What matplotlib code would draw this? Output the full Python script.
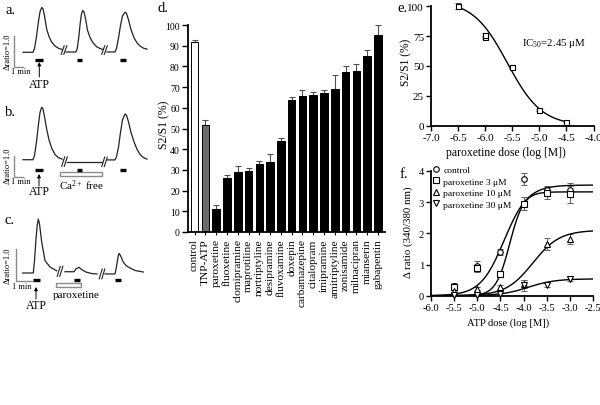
import numpy as np
import matplotlib
matplotlib.use('Agg')
import matplotlib.pyplot as plt
from matplotlib.lines import Line2D
from matplotlib.patches import Rectangle

plt.rcParams['font.family'] = ['Liberation Serif', 'DejaVu Serif']
plt.rcParams['mathtext.fontset'] = 'custom'
plt.rcParams['mathtext.rm'] = 'Liberation Serif'
plt.rcParams['mathtext.it'] = 'Liberation Serif:italic'
plt.rcParams['mathtext.bf'] = 'Liberation Serif:bold'
plt.rcParams['axes.unicode_minus'] = False

# ---------------- data ----------------
# traces (time in min, delta ratio)
a_t = [[2.3, 3.3, 3.45, 3.65, 3.85, 4.0, 4.17, 4.3, 4.45, 4.67, 4.9, 5.17, 5.5, 5.83, 6.2],
       [6.6, 7.6, 7.72, 7.88, 8.02, 8.14, 8.27, 8.4, 8.55, 8.75, 9.0, 9.3, 9.65, 10.0, 10.3],
       [10.7, 11.5, 11.65, 11.85, 12.05, 12.25, 12.5, 12.65, 12.85, 13.1, 13.4, 13.7, 14.0, 14.35, 14.7]]
a_r = [[0, 0, 0.12, 0.5, 0.98, 1.28, 1.42, 1.38, 1.15, 0.73, 0.5, 0.32, 0.2, 0.13, 0.09],
       [0.01, 0.01, 0.12, 0.48, 0.92, 1.2, 1.32, 1.28, 1.07, 0.7, 0.47, 0.3, 0.18, 0.12, 0.09],
       [0.01, 0.01, 0.12, 0.45, 0.85, 1.15, 1.27, 1.23, 1.03, 0.72, 0.46, 0.3, 0.2, 0.13, 0.1]]
b_t = [[2.3, 3.3, 3.45, 3.65, 3.85, 4.0, 4.17, 4.3, 4.45, 4.67, 4.9, 5.17, 5.5, 5.83, 6.2],
       [6.7, 10.2],
       [10.7, 11.5, 11.65, 11.85, 12.05, 12.25, 12.5, 12.65, 12.85, 13.1, 13.4, 13.7, 14.0, 14.35, 14.7]]
b_r = [[0, 0, 0.2, 0.85, 1.7, 2.25, 2.5, 2.42, 2.05, 1.45, 0.95, 0.55, 0.25, 0.1, 0.03],
       [-0.12, -0.12],
       [-0.01, -0.01, 0.15, 0.6, 1.3, 1.9, 2.18, 2.12, 1.8, 1.3, 0.85, 0.5, 0.25, 0.1, 0.03]]
c_t = [[2.27, 3.33, 3.45, 3.6, 3.72, 3.83, 3.95, 4.17, 4.5, 5.0, 5.67],
       [6.5, 7.4, 7.6, 7.9, 8.2, 8.6, 9.2, 9.7],
       [10.5, 11.5, 11.65, 11.8, 11.9, 12.05, 12.33, 12.65, 13.0, 13.5, 14.33]]
c_r = [[0, 0, 0.38, 1.07, 1.5, 1.7, 1.55, 0.98, 0.39, 0.19, 0.07],
       [0.04, 0.04, 0.13, 0.18, 0.1, 0.03, -0.02, -0.03],
       [-0.03, -0.03, 0.2, 0.5, 0.62, 0.55, 0.34, 0.22, 0.16, 0.08, 0.03]]
a_atp = [(3.47, 4.27), (7.7, 8.2), (12.0, 12.6)]
b_atp = [(3.47, 4.27), (7.7, 8.2), (12.0, 12.6)]
c_atp = [(3.33, 4.0), (7.4, 8.0), (11.5, 12.07)]
b_cafree = (6.0, 10.17)
c_parox = (5.6, 8.07)

# panel d
drug_labels = ['control', 'TNP-ATP', 'paroxetine', 'fluoxetine', 'clomipramine', 'maprotiline',
               'nortriptyline', 'desipramine', 'fluvoxamine', 'doxepin', 'carbamazepine',
               'citalopram', 'imipramine', 'amitriptyline', 'zonisamide', 'milnacipran',
               'mianserin', 'gabapentin']
s2s1_vals = [91.8, 51.9, 11.3, 25.9, 29.0, 29.5, 32.9, 34.0, 43.8, 63.6, 65.9, 66.0, 67.0,
             69.3, 77.1, 77.7, 85.2, 95.1]
s2s1_err = [0.8, 2.0, 1.8, 1.6, 2.7, 1.5, 1.4, 3.9, 1.4, 1.8, 2.6, 1.6, 1.7, 6.4, 2.9, 3.5, 2.5, 4.7]

# panel e
e_dose = [-6.5, -6.0, -6.0, -5.5, -5.0, -4.5]
e_resp = [100.5, 74.0, 76.0, 49.0, 13.0, 3.5]
e_err = [2.5, 1.5, 1.5, 1.5, 1.0, 0.8]
e_fit = dict(top=105.0, hill=1.37, logx0=-5.59)

# panel f
f_dose = [-5.5, -5.0, -4.5, -4.0, -3.5, -3.0]
f_control = [0.32, 0.95, 1.39, 3.75, 3.38, 3.40]
f_control_err = [0.08, 0.15, 0.1, 0.2, 0.15, 0.2]
f_par3 = [0.27, 0.88, 0.70, 2.95, 3.30, 3.25]
f_par3_err = [0.06, 0.12, 0.06, 0.2, 0.2, 0.28]
f_par10 = [0.15, 0.22, 0.28, 0.38, 1.66, 1.82]
f_par10_err = [0.05, 0.05, 0.05, 0.12, 0.2, 0.17]
f_par30 = [0.03, 0.03, 0.05, 0.33, 0.35, 0.55]
f_par30_err = [0.02, 0.02, 0.03, 0.18, 0.07, 0.08]
f_fits = [(3.55, -4.42, 1.7), (3.33, -4.30, 2.9), (2.1, -3.8, 1.5), (0.54, -3.9, 1.5)]

# ---------------- figure ----------------
W, H = 600, 406
fig = plt.figure(figsize=(6, 4.06), dpi=100)


def box(l, t, r, b):
    return [l / W, 1 - b / H, (r - l) / W, (b - t) / H]


def ftext(px, py, s, **kw):
    kw.setdefault('ha', 'center')
    kw.setdefault('va', 'center')
    fig.text(px / W, 1 - py / H, s, **kw)


trace_col = '#222222'
gray = '#8a8a8a'


def trace_panel(top, bot, ylim, ts, rs, atp, atp_y, breaks, scale, arrow, openbar=None):
    ax = fig.add_axes(box(0, top, 150, bot))
    ax.set_xlim(0, 15)
    ax.set_ylim(*ylim)
    ax.axis('off')
    for t, r in zip(ts, rs):
        ax.plot(t, r, color=trace_col, lw=0.9)
    for (t0, t1) in atp:
        ax.plot([t0, t1], [atp_y, atp_y], color='black', lw=2.4, solid_capstyle='butt')
    dy = 0.045 * (ylim[1] - ylim[0])
    for (bx, by) in breaks:
        for off in (-0.13, 0.13):
            ax.plot([bx + off - 0.15, bx + off + 0.15], [by - dy, by + dy], color=trace_col, lw=0.8)
    sx, sy0, sy1, sxl = scale
    ax.plot([sx, sx, sx + sxl], [sy1, sy0, sy0], color=gray, lw=1.0)
    at, a0, a1 = arrow
    ax.annotate('', xy=(at, a1), xytext=(at, a0),
                arrowprops=dict(arrowstyle='-|>', lw=0.7, color='black', mutation_scale=5,
                                shrinkA=0, shrinkB=0))
    if openbar is not None:
        (x0, x1), (y0, y1) = openbar
        ax.add_patch(Rectangle((x0, y0), x1 - x0, y1 - y0, facecolor='white',
                               edgecolor=gray, lw=1.0))
    return ax


trace_panel(0, 95, (-1.32, 1.687), a_t, a_r, a_atp, -0.234,
            [(6.4, 0.07), (10.45, 0.07)], (1.4, -0.475, 0.525, 0.9), (3.93, -0.78, -0.31))
trace_panel(95, 200, (-1.871, 3.129), b_t, b_r, b_atp, -0.476,
            [(6.45, -0.09), (10.45, -0.1)], (1.35, -0.84, 0.16, 0.9), (3.9, -1.25, -0.68),
            openbar=(b_cafree, (-0.76, -0.6)))
trace_panel(200, 310, (-1.136, 2.334), c_t, c_r, c_atp, -0.22,
            [(6.0, 0.05), (10.2, -0.03)], (1.57, -0.243, 0.757, 1.6), (3.6, -0.82, -0.44),
            openbar=(c_parox, (-0.44, -0.33)))

small = 6
ftext(11, 10, 'a.', fontsize=10.5)
ftext(8, 52, 'Δratio=1.0', fontsize=small, rotation=90)
ftext(21, 72.5, '1 min', fontsize=small)
ftext(39, 85, 'ATP', fontsize=8.5)

ftext(11, 112, 'b.', fontsize=10.5)
ftext(8, 166, 'Δratio=1.0', fontsize=small, rotation=90)
ftext(21, 182, '1 min', fontsize=small)
ftext(39, 192, 'ATP', fontsize=8.5)
ftext(81, 186, r'Ca$^{2+}$ free', fontsize=8)

ftext(10, 221, 'c.', fontsize=10.5)
ftext(8, 266, 'Δratio=1.0', fontsize=small, rotation=90)
ftext(22, 287, '1 min', fontsize=small)
ftext(36, 306, 'ATP', fontsize=8.5)
ftext(76, 296, 'paroxetine', fontsize=8)

# ---------------- panel d ----------------
axd = fig.add_axes(box(187.5, 26, 385, 233))
xpos = np.arange(len(drug_labels))
colors = ['white', '#6b6b6b'] + ['black'] * (len(drug_labels) - 2)
axd.bar(xpos, s2s1_vals, width=0.7, color=colors, edgecolor='black', linewidth=0.7, zorder=2)
axd.errorbar(xpos, s2s1_vals, yerr=[np.zeros(len(xpos)), s2s1_err], fmt='none',
             ecolor='#505050', elinewidth=0.8, capsize=2, capthick=0.8, zorder=1)
axd.set_xlim(-0.66, 17.65)
axd.set_ylim(0, 100)
axd.set_yticks(np.arange(0, 101, 10))
axd.set_xticks(xpos)
axd.set_xticklabels(drug_labels, rotation=90, fontsize=8.2)
axd.tick_params(axis='y', direction='out', length=4, width=1, labelsize=7, pad=1.5)
axd.tick_params(axis='x', direction='out', length=2.5, width=0.8, pad=2)
for s in ('top', 'right'):
    axd.spines[s].set_visible(False)
for s in ('left', 'bottom'):
    axd.spines[s].set_linewidth(1.3)
ftext(164, 125, 'S2/S1 (%)', fontsize=8.5, rotation=90)
ftext(163, 8, 'd.', fontsize=10.5)

# ---------------- panel e ----------------
axe = fig.add_axes(box(431, 7.3, 593.5, 126.7))
axe.errorbar(e_dose, e_resp, yerr=e_err, fmt='s', mfc='white', mec='black', ms=3.6, mew=0.8,
             ecolor='#505050', elinewidth=0.7, capsize=2, capthick=0.7, clip_on=False, zorder=3)
xe = np.linspace(-6.5, -4.5, 200)
axe.plot(xe, e_fit['top'] / (1 + 10 ** (e_fit['hill'] * (xe - e_fit['logx0']))),
         color='black', lw=1.0)
axe.set_xlim(-7.0, -4.0)
axe.set_ylim(0, 100)
axe.set_xticks(np.arange(-7.0, -3.99, 0.5))
axe.set_xticklabels(['%.1f' % v for v in np.arange(-7.0, -3.99, 0.5)])
axe.set_yticks([0, 25, 50, 75, 100])
axe.tick_params(direction='out', length=3.5, width=1, labelsize=8, pad=1.5)
for s in ('top', 'right'):
    axe.spines[s].set_visible(False)
for s in ('left', 'bottom'):
    axe.spines[s].set_linewidth(1.3)
axe.text(0.955, 0.70, r'IC$_{50}$=2.45 μM', transform=axe.transAxes, fontsize=7.8,
         ha='right', va='center')
ftext(406, 62, 'S2/S1 (%)', fontsize=8.3, rotation=90)
ftext(506, 153, 'paroxetine dose (log [M])', fontsize=8.4)
ftext(403, 9, 'e.', fontsize=10.5)

# ---------------- panel f ----------------
axf = fig.add_axes(box(431, 172, 593, 296.7))
series = [(f_control, f_control_err, 'o', 'control'),
          (f_par3, f_par3_err, 's', 'paroxetine 3 μM'),
          (f_par10, f_par10_err, '^', 'paroxetine 10 μM'),
          (f_par30, f_par30_err, 'v', 'paroxetine 30 μM')]
xf = np.linspace(-6.0, -2.5, 300)
handles = []
for (vals, errs, mk, lab), (top, x0, h) in zip(series, f_fits):
    axf.plot(xf, top / (1 + 10 ** (h * (x0 - xf))), color='black', lw=1.0, zorder=2)
    axf.errorbar(f_dose, vals, yerr=errs, fmt='none', ecolor='#606060', elinewidth=0.7,
                 capsize=2, capthick=0.7, zorder=1, clip_on=False)
    axf.plot(f_dose, vals, ls='none', marker=mk, mfc='white', mec='black', ms=4, mew=0.8,
             zorder=3, clip_on=False)
    handles.append(Line2D([], [], ls='none', marker=mk, mfc='white', mec='black', ms=4,
                          mew=0.8, label=lab))
axf.set_xlim(-6.0, -2.5)
axf.set_ylim(0, 4)
axf.set_xticks(np.arange(-6.0, -2.49, 0.5))
axf.set_xticklabels(['%.1f' % v for v in np.arange(-6.0, -2.49, 0.5)])
axf.set_yticks([0, 1, 2, 3, 4])
axf.tick_params(direction='out', length=3.5, width=1, labelsize=7.6, pad=1.5)
for s in ('top', 'right'):
    axf.spines[s].set_visible(False)
for s in ('left', 'bottom'):
    axf.spines[s].set_linewidth(1.3)
axf.legend(handles=handles, loc='upper left', bbox_to_anchor=(0.0, 1.05), frameon=False,
           fontsize=6.8, handlelength=0.8, handletextpad=0.4, labelspacing=0.3,
           borderaxespad=0, borderpad=0.1)
ftext(408, 232, 'Δ ratio (340/380 nm)', fontsize=7.8, rotation=90)
ftext(508, 323, 'ATP dose (log [M])', fontsize=7.6)
ftext(404, 174, 'f.', fontsize=10.5)

fig.savefig('out.png', dpi=100)
